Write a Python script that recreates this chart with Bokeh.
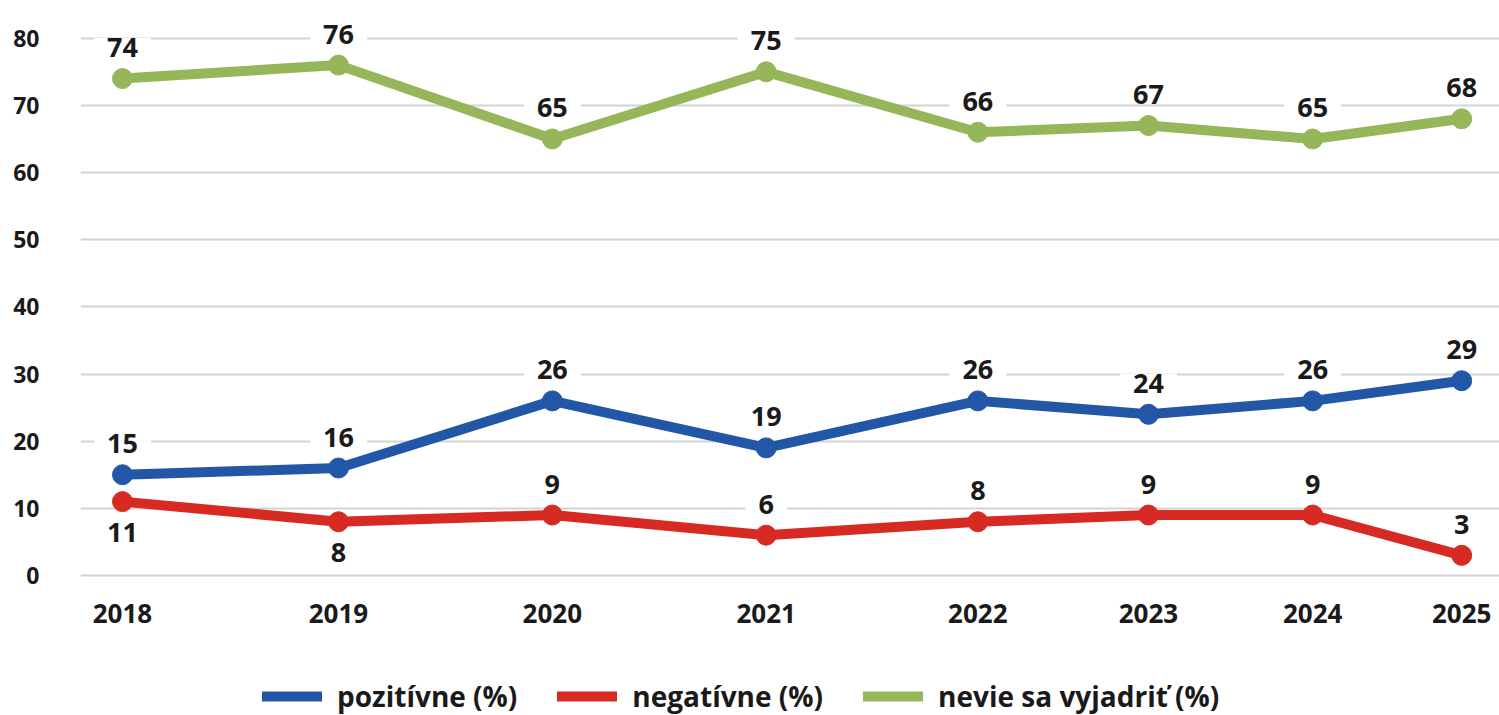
from bokeh.plotting import figure
from bokeh.models import ColumnDataSource, FixedTicker, Legend, LegendItem, Range1d
from bokeh.core.properties import value
from bokeh.embed import file_html
from bokeh.resources import INLINE

# ---- data ----
years = ["2018", "2019", "2020", "2021", "2022", "2023", "2024", "2025"]
x_pos = [0, 1, 1.99, 2.98, 3.96, 4.75, 5.51, 6.2]   # survey positions on the time axis
pozitivne = [15, 16, 26, 19, 26, 24, 26, 29]
negativne = [11, 8, 9, 6, 8, 9, 9, 3]
nevie = [74, 76, 65, 75, 66, 67, 65, 68]
negativne_label_below = [True, True, False, False, False, False, False, False]
series_names = ["pozitívne (%)", "negatívne (%)", "nevie sa vyjadriť (%)"]
y_ticks = [0, 10, 20, 30, 40, 50, 60, 70, 80]

# ---- style ----
BLUE = "#2157a6"
RED = "#d62a22"
GREEN = "#95b75a"
TXT = "#1a1a1a"
FONT = "Open Sans"

W, H = 1499, 715
p = figure(width=W, height=H, output_backend="svg", toolbar_location=None,
           x_range=Range1d(-0.1944, 6.375), y_range=Range1d(-20.85, 85.62),
           min_border_left=80, min_border_right=0, min_border_top=0, min_border_bottom=0)
p.outline_line_color = None
p.background_fill_color = "white"
p.border_fill_color = "white"

# axes
p.xaxis.fixed_location = -3.42
p.xaxis.ticker = FixedTicker(ticks=x_pos)
p.xaxis.major_label_overrides = {x: y for x, y in zip(x_pos, years)}
p.yaxis.ticker = FixedTicker(ticks=y_ticks)
for ax in (p.xaxis[0], p.yaxis[0]):
    ax.axis_line_color = None
    ax.major_tick_line_color = None
    ax.minor_tick_line_color = None
    ax.major_tick_out = 0
    ax.minor_tick_out = 0
    ax.major_label_text_font = FONT
    ax.major_label_text_font_style = "bold"
    ax.major_label_text_color = TXT
p.xaxis.major_label_text_font_size = "26px"
p.xaxis.major_label_standoff = 6
p.yaxis.major_label_text_font_size = "23px"
p.yaxis.major_label_standoff = 41

p.xgrid.grid_line_color = None
p.ygrid.ticker = FixedTicker(ticks=y_ticks)
p.ygrid.grid_line_color = "#d4d4d4"
p.ygrid.grid_line_width = 2

renderers = []
for vals, color in ((pozitivne, BLUE), (negativne, RED), (nevie, GREEN)):
    src = ColumnDataSource(dict(x=x_pos, y=vals))
    r = p.line("x", "y", source=src, line_color=color, line_width=10,
               line_cap="round", line_join="round")
    p.scatter("x", "y", source=src, size=20, fill_color=color, line_color=color)
    renderers.append(r)

# data labels
def add_labels(vals, below):
    src = ColumnDataSource(dict(
        x=x_pos, y=vals, t=[str(v) for v in vals],
        off=[31 if b else -31 for b in below]))
    p.text("x", "y", text="t", source=src, y_offset="off",
           text_font=value(FONT), text_font_style="bold", text_font_size="27px",
           text_color=TXT, text_align="center", text_baseline="middle",
           background_fill_color="white",
           padding=dict(left=13, right=13, top=0, bottom=0))

add_labels(pozitivne, [False] * len(years))
add_labels(negativne, negativne_label_below)
add_labels(nevie, [False] * len(years))

legend = Legend(items=[LegendItem(label=n, renderers=[r]) for n, r in zip(series_names, renderers)],
                orientation="horizontal", location=(182, 0),
                label_text_font=FONT, label_text_font_style="bold",
                label_text_font_size="28px", label_text_color=TXT,
                glyph_width=60, glyph_height=24, label_standoff=15, spacing=40,
                padding=0, margin=0, border_line_color=None,
                background_fill_alpha=0)
p.add_layout(legend, "center")

open("out.html", "w").write(file_html(p, INLINE))
